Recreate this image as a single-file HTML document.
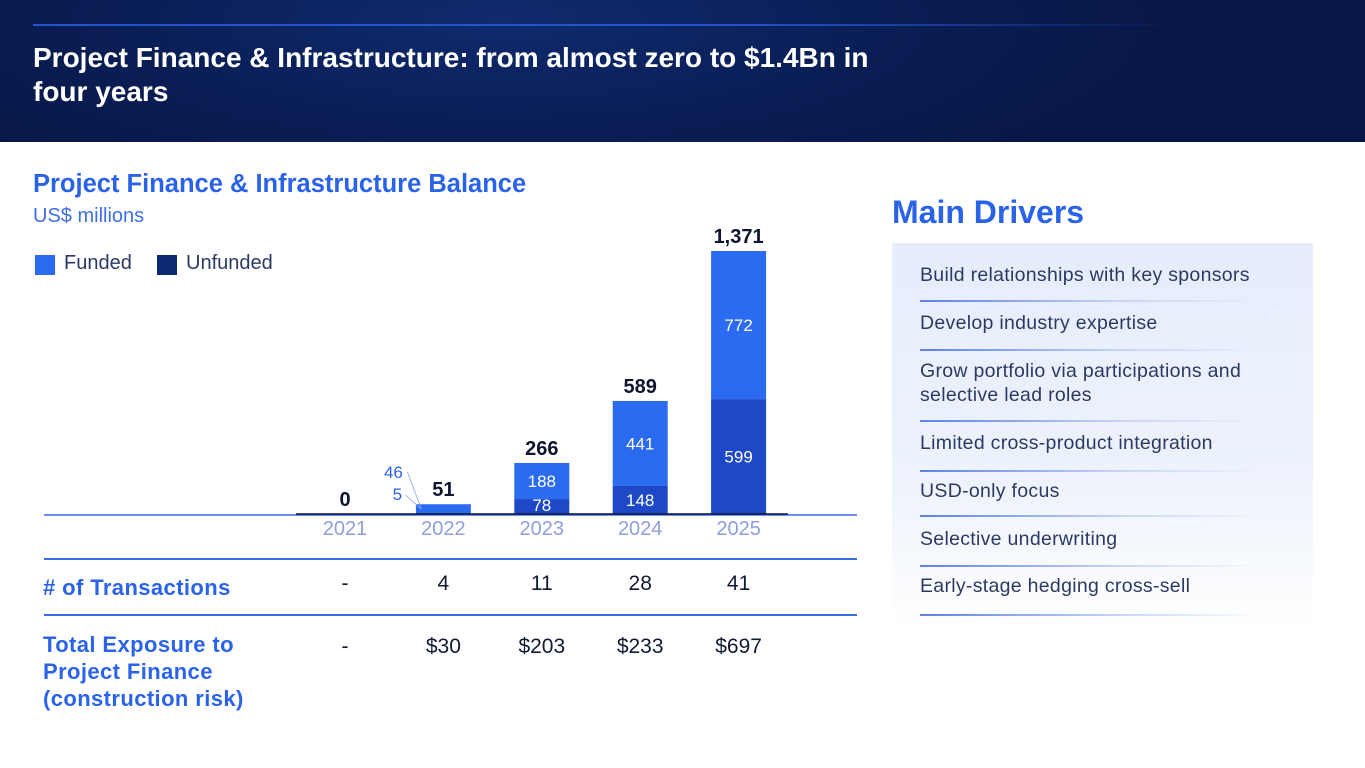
<!DOCTYPE html>
<html><head><meta charset="utf-8"><style>
*{margin:0;padding:0;box-sizing:border-box}
body{width:1365px;height:768px;position:relative;background:#fff;font-family:"Liberation Sans",sans-serif;overflow:hidden}
.abs{position:absolute}
#hdr{left:0;top:0;width:1365px;height:142px;background:radial-gradient(ellipse 700px 200px at 500px 20px,#0f2a6e 0%,#0a1f57 50%,#071646 100%)}
#hline{left:33px;top:24px;width:1150px;height:2px;background:linear-gradient(90deg,#2453d0 0%,#2453d0 60%,rgba(36,83,208,0) 100%)}
#title{left:33px;top:41px;color:#fff;font-size:28px;font-weight:bold;line-height:34px;letter-spacing:0}
.blue{color:#2b63e8}
.panel{left:892px;top:243px;width:421px;height:385px;background:linear-gradient(180deg,#e6edfb 0%,#edf2fc 60%,#fff 100%)}
.drv{position:absolute;left:28px;color:#2c3a63;font-size:19.5px;line-height:24px;letter-spacing:0.3px}
.dl{position:absolute;left:28px;width:340px;height:2px;background:linear-gradient(90deg,#5d82e6,#c9d6f5 60%,rgba(220,230,250,0))}
.tl{left:44px;width:813px;height:2px;background:#3a6ae6}
</style></head><body>
<div id="hdr" class="abs"></div>
<div id="hline" class="abs"></div>
<div id="title" class="abs">Project Finance &amp; Infrastructure: from almost zero to $1.4Bn in<br>four years</div>

<div class="abs blue" style="left:33px;top:170px;font-size:25.5px;font-weight:bold">Project Finance &amp; Infrastructure Balance</div>
<div class="abs blue" style="left:33px;top:205px;font-size:20px;color:#3f6fe6">US$ millions</div>

<div class="abs" style="left:35px;top:255px;width:20px;height:20px;background:#2b6bf0"></div>
<div class="abs" style="left:64px;top:252px;font-size:20px;color:#2c3a63">Funded</div>
<div class="abs" style="left:157px;top:255px;width:20px;height:20px;background:#0c2a70"></div>
<div class="abs" style="left:186px;top:252px;font-size:20px;color:#2c3a63">Unfunded</div>

<svg class="abs" style="left:0;top:0" width="1365" height="768" id="chart"></svg>

<div class="abs tl" style="top:558px"></div>
<div class="abs tl" style="top:614px"></div>
<div class="abs blue" style="left:43px;top:575px;font-size:22px;font-weight:bold;letter-spacing:0.4px"># of Transactions</div>
<div class="abs blue" style="left:43px;top:631px;font-size:22px;font-weight:bold;line-height:27px;letter-spacing:0.4px">Total Exposure to<br>Project Finance<br>(construction risk)</div>

<div class="abs blue" style="left:892px;top:194px;font-size:32px;font-weight:bold">Main Drivers</div>
<div class="abs panel">
 <div class="drv" style="top:20px">Build relationships with key sponsors</div>
 <div class="dl" style="top:57px"></div>
 <div class="drv" style="top:68px">Develop industry expertise</div>
 <div class="dl" style="top:106px"></div>
 <div class="drv" style="top:116px">Grow portfolio via participations and<br>selective lead roles</div>
 <div class="dl" style="top:177px"></div>
 <div class="drv" style="top:188px">Limited cross-product integration</div>
 <div class="dl" style="top:227px"></div>
 <div class="drv" style="top:236px">USD-only focus</div>
 <div class="dl" style="top:272px"></div>
 <div class="drv" style="top:284px">Selective underwriting</div>
 <div class="dl" style="top:322px"></div>
 <div class="drv" style="top:331px">Early-stage hedging cross-sell</div>
 <div class="dl" style="top:371px"></div>
</div>

<script>
const years=["2021","2022","2023","2024","2025"];
const unfunded=[0,5,78,148,599];
const funded=[0,46,188,441,772];
const totals=["0","51","266","589","1,371"];
const transactions=["-","4","11","28","41"];
const exposure=["-","$30","$203","$233","$697"];
const NS="http://www.w3.org/2000/svg";
const svg=document.getElementById('chart');
const base=514, scale=263/1371, x0=345, step=98.4, bw=55;
const xc=i=>x0+i*step;
const y=v=>base-v*scale;
function mk(t,a){const e=document.createElementNS(NS,t);for(const k in a)e.setAttribute(k,a[k]);svg.appendChild(e);return e;}
let l=mk('line',{x1:44,x2:857,y1:base+1,y2:base+1,stroke:'#3a6ae6','stroke-width':1.5});


years.forEach((yr,i)=>{
 const cx=xc(i);
 const tot=unfunded[i]+funded[i];
 if(unfunded[i]>0){
  const r=mk('rect',{x:cx-bw/2,y:y(unfunded[i]),width:bw,height:unfunded[i]*scale,fill:'#1d49c6'});
  
  
 }
 if(funded[i]>0){
  const r=mk('rect',{x:cx-bw/2,y:y(tot),width:bw,height:funded[i]*scale,fill:'#2b6bf0'});
  
  
 }
 const tt=mk('text',{x:cx,y:y(tot)-8,'text-anchor':'middle','font-size':20,'font-weight':'bold',fill:'#0d1530','font-family':'Liberation Sans'});
 tt.textContent=totals[i];
 
 
 if(tot*scale>30){
  const f=mk('text',{x:cx,y:y(unfunded[i]+funded[i]/2)+6,'text-anchor':'middle','font-size':17,fill:'#fff','font-family':'Liberation Sans'});
  f.textContent=funded[i];
  
  
  const u=mk('text',{x:cx,y:Math.min(y(unfunded[i]/2)+6,base-3),'text-anchor':'middle','font-size':17,fill:'#fff','font-family':'Liberation Sans'});
  u.textContent=unfunded[i];
  
  
 } else if(tot>0){
  const f=mk('text',{x:cx-50,y:478,'text-anchor':'middle','font-size':17,fill:'#2b63e8','font-family':'Liberation Sans'});
  f.textContent=funded[i];
  
  
  const u=mk('text',{x:cx-46,y:500,'text-anchor':'middle','font-size':17,fill:'#2b63e8','font-family':'Liberation Sans'});
  u.textContent=unfunded[i];
  
  
  mk('line',{x1:cx-36,y1:472,x2:cx-22,y2:y(tot/2),stroke:'#8aa4ea','stroke-width':0.8});
  mk('line',{x1:cx-38,y1:495,x2:cx-22,y2:y(tot/2),stroke:'#8aa4ea','stroke-width':0.8});
 }
 const yl=mk('text',{x:cx,y:535,'text-anchor':'middle','font-size':20,fill:'#8e9fdc','font-family':'Liberation Sans'});
 yl.textContent=yr;
 
 
 const tr=mk('text',{x:cx,y:590,'text-anchor':'middle','font-size':21,fill:'#111a33','font-family':'Liberation Sans'});
 tr.textContent=transactions[i];
 
 
 const ex=mk('text',{x:cx,y:653,'text-anchor':'middle','font-size':21,fill:'#111a33','font-family':'Liberation Sans'});
 ex.textContent=exposure[i];
 
 
});
const ax=mk('line',{x1:296,x2:788,y1:base,y2:base,stroke:'#0d1530','stroke-width':1.5});


</script>
</body></html>
